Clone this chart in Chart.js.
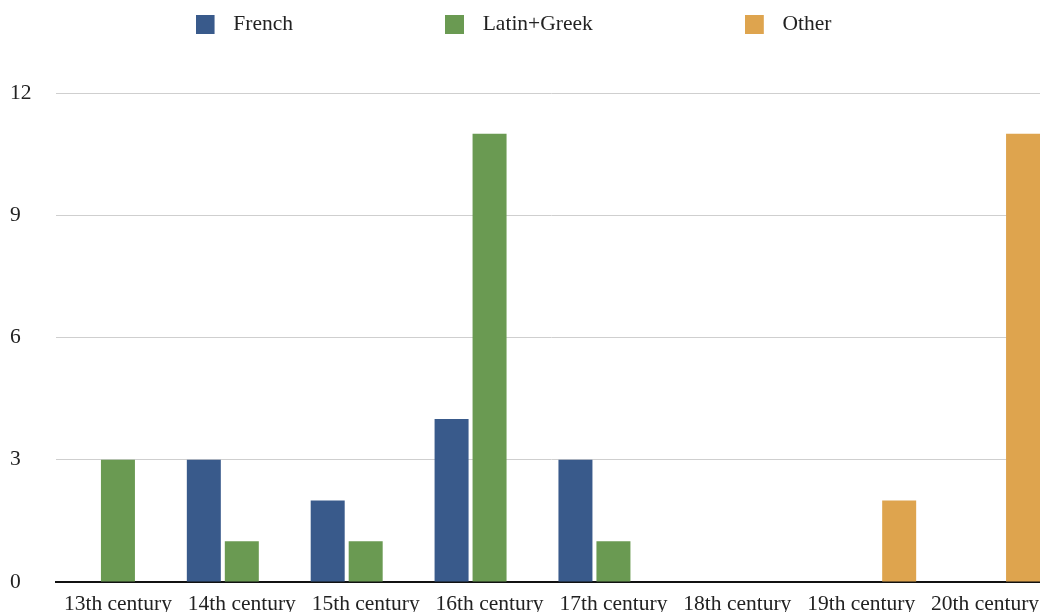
<!DOCTYPE html>
<html>
<head>
<meta charset="utf-8">
<script src="https://cdn.jsdelivr.net/npm/chart.js@4/dist/chart.umd.min.js"></script>
<style>
  html, body { margin: 0; padding: 0; background: #fff; overflow: hidden; }
  #wrap { width: 1050px; height: 612px; position: relative; }
</style>
</head>
<body>
<div id="wrap"><canvas id="c"></canvas></div>
<script>
const categories = ["13th century", "14th century", "15th century", "16th century", "17th century", "18th century", "19th century", "20th century"];
const frenchValues = [0, 3, 2, 4, 3, 0, 0, 0];
const latinGreekValues = [3, 1, 1, 11, 1, 0, 0, 0];
const otherValues = [0, 0, 0, 0, 0, 0, 2, 11];
const seriesNames = ["French", "Latin+Greek", "Other"];
const seriesColors = ['#395a8b', '#6a9a52', '#dea44e'];
const yTicks = [0, 3, 6, 9, 12];

// legend marker: 19px square with transparent space to its right
function marker(color) {
  const c = document.createElement('canvas');
  c.width = 27; c.height = 19;
  const g = c.getContext('2d');
  g.fillStyle = color;
  g.fillRect(0, 0, 19, 19);
  return c;
}

const LEGEND_PAD = 152;
const legendPlugin = {
  id: 'legendPlace',
  beforeInit(chart) {
    const fit = chart.legend.fit;
    chart.legend.fit = function () {
      fit.call(this);
      this.height = 93;
    };
  },
  afterLayout(chart) {
    const lg = chart.legend;
    lg.top = 14 - LEGEND_PAD;
    lg.left -= 15;
    lg.right -= 15;
  }
};

const serif = "'Liberation Serif', 'Times New Roman', serif";

new Chart(document.getElementById('c'), {
  type: 'bar',
  data: {
    labels: categories,
    datasets: [
      { label: seriesNames[0], data: frenchValues, backgroundColor: seriesColors[0] },
      { label: seriesNames[1], data: latinGreekValues, backgroundColor: seriesColors[1] },
      { label: seriesNames[2], data: otherValues, backgroundColor: seriesColors[2] }
    ]
  },
  options: {
    responsive: true,
    maintainAspectRatio: false,
    animation: false,
    devicePixelRatio: 1,
    layout: { padding: { left: 10, right: 3, top: 0, bottom: 0 } },
    datasets: { bar: { categoryPercentage: 0.92, barPercentage: 0.895 } },
    plugins: {
      tooltip: { enabled: false },
      legend: {
        position: 'top',
        labels: {
          usePointStyle: true,
          pointStyleWidth: 27,
          boxHeight: 19,
          padding: LEGEND_PAD,
          color: '#222',
          font: { family: serif, size: 21.5 },
          generateLabels(chart) {
            const items = Chart.defaults.plugins.legend.labels.generateLabels(chart);
            items.forEach((it, i) => { it.pointStyle = marker(seriesColors[i]); });
            return items;
          }
        }
      }
    },
    scales: {
      x: {
        afterFit(scale) { scale.height = 30; },
        grid: { display: false, drawTicks: false },
        border: { display: true, color: '#111', width: 2 },
        ticks: { color: '#222', padding: 9, maxRotation: 0, autoSkip: false, font: { family: serif, size: 21.5 } }
      },
      y: {
        min: 0,
        max: 12,
        afterFit(scale) { scale.width = 46; },
        afterBuildTicks(scale) { scale.ticks = yTicks.map(v => ({ value: v })); },
        grid: { color: '#cfcfcf', lineWidth: 1, drawTicks: false },
        border: { display: false },
        ticks: { color: '#222', padding: 8, crossAlign: 'far', font: { family: serif, size: 21.5 } }
      }
    }
  },
  plugins: [legendPlugin]
});
</script>
</body>
</html>
